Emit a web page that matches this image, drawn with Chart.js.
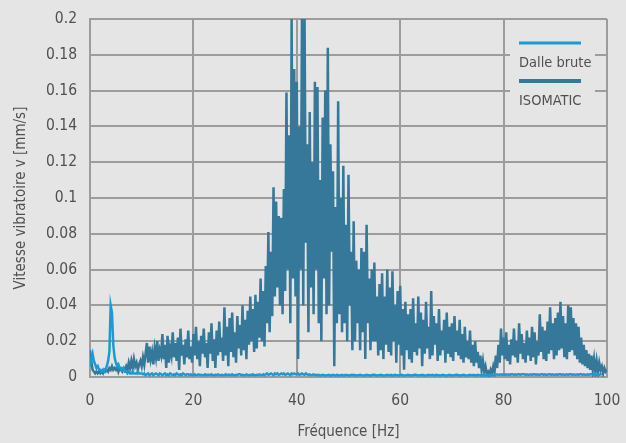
<!DOCTYPE html>
<html>
<head>
<meta charset="utf-8">
<script src="https://cdn.jsdelivr.net/npm/chart.js@4.4.1/dist/chart.umd.min.js"></script>
<style>
    html, body { margin: 0; padding: 0; background: #e4e5e4; }
    #wrap { width: 626px; height: 443px; position: relative; }
</style>
</head>
<body>
<div id="wrap"><canvas id="spectre"></canvas></div>
<script>
// ============================
// Données
// ============================
const freqDebut = 0;      // Hz
const freqPas = 0.25;     // Hz entre deux échantillons

const seriesNoms = ["Dalle brute", "ISOMATIC"];
const seriesCouleurs = ["#1a9bd7", "#357899"];

const yTicks = [0, 0.02, 0.04, 0.06, 0.08, 0.1, 0.12, 0.14, 0.16, 0.18, 0.2];
const xTicks = [0, 20, 40, 60, 80, 100];

// Dalle brute, mm/s, un groupe de 4 valeurs par Hz
const dalleBrute = [
    0.006, 0.010, 0.013, 0.009,  0.007, 0.005, 0.006, 0.004,  0.004, 0.003, 0.004, 0.003,
    0.004, 0.006, 0.009, 0.014,  0.040, 0.036, 0.018, 0.011,  0.008, 0.006, 0.007, 0.005,
    0.005, 0.004, 0.005, 0.003,  0.003, 0.002, 0.003, 0.002,  0.002, 0.003, 0.002, 0.002,
    0.002, 0.003, 0.002, 0.002,  0.002, 0.0015, 0.002, 0.001,  0.0015, 0.002, 0.001, 0.0015,
    0.002, 0.001, 0.0015, 0.002,  0.0015, 0.001, 0.002, 0.0015,  0.001, 0.0015, 0.002, 0.001,
    0.0015, 0.001, 0.002, 0.0015,  0.001, 0.0015, 0.001, 0.002,  0.0015, 0.001, 0.0015, 0.001,
    0.002, 0.0015, 0.001, 0.0015,  0.0015, 0.001, 0.0015, 0.001,  0.001, 0.0015, 0.001, 0.0012,
    0.0015, 0.001, 0.0012, 0.001,  0.001, 0.0015, 0.001, 0.0012,  0.0012, 0.001, 0.0015, 0.001,
    0.001, 0.0012, 0.001, 0.0015,  0.0012, 0.001, 0.0012, 0.001,  0.001, 0.0015, 0.001, 0.0012,
    0.0012, 0.001, 0.0015, 0.001,  0.001, 0.0012, 0.001, 0.0015,  0.0015, 0.001, 0.0012, 0.001,
    0.001, 0.0015, 0.0012, 0.001,  0.0012, 0.001, 0.0015, 0.001,  0.001, 0.0012, 0.001, 0.0015,
    0.0012, 0.001, 0.0015, 0.001,  0.0015, 0.002, 0.0012, 0.0015,  0.002, 0.0015, 0.001, 0.002,
    0.0015, 0.002, 0.0012, 0.0015,  0.002, 0.0015, 0.002, 0.0012,  0.0015, 0.002, 0.0015, 0.001,
    0.002, 0.0015, 0.002, 0.0015,  0.0015, 0.002, 0.0012, 0.0015,  0.002, 0.0015, 0.0012, 0.002,
    0.0015, 0.0012, 0.0015, 0.001,  0.0012, 0.0015, 0.001, 0.0012,  0.001, 0.0012, 0.0008, 0.001,
    0.0012, 0.001, 0.0008, 0.001,  0.001, 0.0012, 0.0008, 0.001,  0.0012, 0.001, 0.0008, 0.0012,
    0.001, 0.0008, 0.001, 0.0012,  0.0008, 0.001, 0.0012, 0.001,  0.001, 0.0008, 0.0012, 0.001,
    0.0012, 0.001, 0.0008, 0.001,  0.001, 0.0012, 0.001, 0.0008,  0.0008, 0.001, 0.0012, 0.001,
    0.001, 0.0008, 0.001, 0.0012,  0.0012, 0.001, 0.0008, 0.001,  0.001, 0.0012, 0.001, 0.0008,
    0.0008, 0.001, 0.0012, 0.001,  0.001, 0.0012, 0.0008, 0.001,  0.0012, 0.001, 0.001, 0.0008,
    0.001, 0.0012, 0.001, 0.0008,  0.0008, 0.001, 0.0012, 0.001,  0.001, 0.0008, 0.001, 0.0012,
    0.0012, 0.001, 0.0008, 0.001,  0.001, 0.0012, 0.001, 0.0008,  0.0008, 0.001, 0.0012, 0.001,
    0.001, 0.0012, 0.0008, 0.001,  0.0012, 0.001, 0.001, 0.0008,  0.001, 0.0012, 0.001, 0.0008,
    0.0008, 0.001, 0.0012, 0.001,  0.001, 0.0008, 0.001, 0.0012,  0.0012, 0.001, 0.0008, 0.001,
    0.001, 0.0012, 0.001, 0.0008,  0.0008, 0.001, 0.0012, 0.001,  0.001, 0.0012, 0.0008, 0.001,
    0.0012, 0.001, 0.001, 0.0008,  0.001, 0.0012, 0.001, 0.0008,  0.001, 0.0012, 0.001, 0.0012,
    0.0012, 0.001, 0.0012, 0.0015,  0.0012, 0.0012, 0.0015, 0.0012,  0.0015, 0.0012, 0.0015, 0.0012,
    0.0015, 0.0012, 0.0015, 0.0015,  0.0012, 0.0015, 0.0012, 0.0015,  0.0015, 0.0012, 0.0015, 0.0015,
    0.0015, 0.0012, 0.0015, 0.0012,  0.0012, 0.0015, 0.0012, 0.0015,  0.0015, 0.0012, 0.0015, 0.0012,
    0.0012, 0.0015, 0.0015, 0.0012,  0.0015, 0.0012, 0.0012, 0.0015,  0.0015, 0.0012, 0.0015, 0.0012,
    0.0012, 0.0015, 0.0012, 0.0015,  0.0015, 0.0012, 0.0015, 0.0012,  0.0012, 0.0015, 0.0012, 0.0015,
    0.0015, 0.0012, 0.0015, 0.0012,  0.0012, 0.0015, 0.0012, 0.0015,  0.0015, 0.0012, 0.0015, 0.0012,
    0.0012, 0.0015, 0.0012, 0.0015,  0.0015, 0.0012, 0.0015, 0.0012,  0.0012, 0.0015, 0.0012, 0.0015,
    0.0015
];

// ISOMATIC, mm/s, un groupe de 4 valeurs par Hz
const isomatic = [
    0.015, 0.009, 0.004, 0.003,  0.002, 0.003, 0.002, 0.003,  0.002, 0.003, 0.002, 0.004,
    0.003, 0.004, 0.003, 0.005,  0.004, 0.006, 0.004, 0.005,  0.004, 0.006, 0.003, 0.005,
    0.004, 0.003, 0.005, 0.004,  0.006, 0.004, 0.008, 0.005,  0.009, 0.005, 0.010, 0.006,
    0.008, 0.004, 0.007, 0.009,  0.006, 0.011, 0.007, 0.013,  0.019, 0.008, 0.017, 0.010,
    0.014, 0.007, 0.016, 0.011,  0.020, 0.009, 0.015, 0.012,  0.024, 0.010, 0.018, 0.005,
    0.023, 0.008, 0.016, 0.012,  0.025, 0.011, 0.019, 0.009,  0.022, 0.004, 0.027, 0.012,
    0.018, 0.007, 0.021, 0.011,  0.026, 0.010, 0.017, 0.008,  0.024, 0.012, 0.028, 0.010,
    0.020, 0.006, 0.023, 0.013,  0.027, 0.011, 0.019, 0.005,  0.025, 0.013, 0.030, 0.009,
    0.021, 0.005, 0.026, 0.012,  0.031, 0.014, 0.022, 0.009,  0.039, 0.012, 0.028, 0.006,
    0.033, 0.014, 0.036, 0.011,  0.025, 0.008, 0.034, 0.016,  0.029, 0.012, 0.040, 0.015,
    0.032, 0.010, 0.037, 0.018,  0.045, 0.020, 0.038, 0.014,  0.046, 0.016, 0.042, 0.022,
    0.055, 0.020, 0.048, 0.017,  0.062, 0.030, 0.081, 0.025,  0.070, 0.034, 0.106, 0.045,
    0.098, 0.050, 0.090, 0.040,  0.089, 0.035, 0.105, 0.048,  0.159, 0.060, 0.135, 0.030,
    0.200, 0.055, 0.172, 0.045,  0.165, 0.010, 0.140, 0.060,  0.200, 0.040, 0.200, 0.075,
    0.130, 0.025, 0.148, 0.050,  0.120, 0.035, 0.165, 0.060,  0.162, 0.030, 0.110, 0.020,
    0.145, 0.055, 0.160, 0.035,  0.184, 0.040, 0.130, 0.070,  0.115, 0.006, 0.095, 0.030,
    0.154, 0.035, 0.100, 0.025,  0.118, 0.030, 0.085, 0.020,  0.113, 0.040, 0.070, 0.015,
    0.087, 0.020, 0.065, 0.030,  0.060, 0.015, 0.072, 0.025,  0.070, 0.010, 0.085, 0.030,
    0.055, 0.015, 0.060, 0.020,  0.064, 0.020, 0.045, 0.012,  0.052, 0.015, 0.058, 0.010,
    0.045, 0.018, 0.060, 0.014,  0.050, 0.012, 0.059, 0.020,  0.040, 0.008, 0.048, 0.018,
    0.051, 0.012, 0.038, 0.004,  0.042, 0.015, 0.035, 0.010,  0.038, 0.008, 0.044, 0.014,
    0.030, 0.012, 0.045, 0.016,  0.036, 0.006, 0.032, 0.013,  0.042, 0.016, 0.028, 0.010,
    0.048, 0.012, 0.034, 0.018,  0.030, 0.009, 0.038, 0.012,  0.026, 0.015, 0.032, 0.008,
    0.036, 0.013, 0.028, 0.011,  0.030, 0.009, 0.034, 0.014,  0.026, 0.012, 0.032, 0.010,
    0.024, 0.008, 0.028, 0.011,  0.020, 0.010, 0.026, 0.008,  0.018, 0.006, 0.020, 0.008,
    0.014, 0.005, 0.012, 0.004,  0.009, 0.003, 0.006, 0.002,  0.003, 0.001, 0.004, 0.002,
    0.006, 0.003, 0.012, 0.005,  0.018, 0.008, 0.027, 0.012,  0.022, 0.010, 0.025, 0.009,
    0.018, 0.007, 0.021, 0.012,  0.027, 0.011, 0.020, 0.008,  0.030, 0.013, 0.024, 0.010,
    0.019, 0.008, 0.026, 0.012,  0.022, 0.009, 0.028, 0.011,  0.025, 0.007, 0.020, 0.012,
    0.035, 0.014, 0.028, 0.010,  0.026, 0.009, 0.031, 0.013,  0.039, 0.015, 0.030, 0.010,
    0.033, 0.012, 0.036, 0.015,  0.042, 0.016, 0.034, 0.011,  0.030, 0.010, 0.040, 0.014,
    0.039, 0.015, 0.033, 0.012,  0.030, 0.010, 0.028, 0.008,  0.022, 0.007, 0.018, 0.006,
    0.015, 0.005, 0.013, 0.004,  0.012, 0.004, 0.010, 0.003,  0.009, 0.003, 0.008, 0.004,
    0.006, 0.002, 0.005, 0.003,
    0.004
];

const police = "'Liberation Sans Narrow', 'DejaVu Sans Condensed', sans-serif";
const couleurTexte = "#505050";
const couleurGrille = "#9c9c9c";
const couleurFond = "#e4e5e4";

function versPoints(valeurs) {
    return valeurs.map((v, i) => ({ x: freqDebut + i * freqPas, y: v }));
}

// les marges automatiques des étiquettes décalent la zone de tracé, on les coupe
function sansMarge(scale) {
    scale.paddingLeft = 0;
    scale.paddingRight = 0;
    scale.paddingTop = 0;
    scale.paddingBottom = 0;
}

// ============================
// Légende dessinée à la main (trait au-dessus du texte)
// ============================
const legendePerso = {
    id: "legendePerso",
    afterDraw(chart) {
        const ctx = chart.ctx;
        ctx.save();
        ctx.fillStyle = couleurFond;
        ctx.fillRect(510, 34, 85, 74);

        const lignes = [{ y: 43, w: 3 }, { y: 81, w: 4 }];
        const textes = [67, 105];
        seriesNoms.forEach((nom, i) => {
            ctx.strokeStyle = seriesCouleurs[i];
            ctx.lineWidth = lignes[i].w;
            ctx.beginPath();
            ctx.moveTo(519, lignes[i].y);
            ctx.lineTo(581, lignes[i].y);
            ctx.stroke();

            ctx.fillStyle = couleurTexte;
            ctx.font = "14.5px " + police;
            ctx.textAlign = "left";
            ctx.textBaseline = "alphabetic";
            ctx.fillText(nom, 519, textes[i]);
        });
        ctx.restore();
    }
};

const ctx = document.getElementById("spectre").getContext("2d");
new Chart(ctx, {
    type: "line",
    data: {
        datasets: [
            {
                label: seriesNoms[0],
                data: versPoints(dalleBrute),
                borderColor: seriesCouleurs[0],
                borderWidth: 2.5,
                pointRadius: 0,
                tension: 0
            },
            {
                label: seriesNoms[1],
                data: versPoints(isomatic),
                borderColor: seriesCouleurs[1],
                borderWidth: 2.5,
                pointRadius: 0,
                tension: 0
            }
        ]
    },
    options: {
        responsive: true,
        maintainAspectRatio: false,
        animation: false,
        layout: { padding: { top: 19, right: 19, left: 0, bottom: 0 } },
        plugins: {
            legend: { display: false },
            tooltip: { enabled: false }
        },
        scales: {
            x: {
                type: "linear",
                min: 0,
                max: 100,
                afterBuildTicks: (scale) => { scale.ticks = xTicks.map(v => ({ value: v })); },
                afterFit: (scale) => { scale.height = 66; sansMarge(scale); },
                grid: { color: couleurGrille, lineWidth: 2, drawTicks: false },
                border: { color: couleurGrille, width: 2 },
                ticks: {
                    padding: 15,
                    color: couleurTexte,
                    font: { family: police, size: 15.5 },
                    maxRotation: 0
                },
                title: {
                    display: true,
                    text: "Fréquence [Hz]",
                    color: couleurTexte,
                    font: { family: police, size: 15 },
                    padding: { top: 0, bottom: 2 }
                }
            },
            y: {
                min: 0,
                max: 0.2,
                afterBuildTicks: (scale) => { scale.ticks = yTicks.map(v => ({ value: v })); },
                afterFit: (scale) => { scale.width = 90; sansMarge(scale); },
                grid: { color: couleurGrille, lineWidth: 2, drawTicks: false },
                border: { color: couleurGrille, width: 2 },
                ticks: {
                    padding: 13,
                    color: couleurTexte,
                    font: { family: police, size: 15.5 },
                    callback: (v) => String(+v.toFixed(2))
                },
                title: {
                    display: true,
                    text: "Vitesse vibratoire v [mm/s]",
                    color: couleurTexte,
                    font: { family: police, size: 15 },
                    padding: { top: 12, bottom: 0 }
                }
            }
        }
    },
    plugins: [legendePerso]
});
</script>
</body>
</html>
